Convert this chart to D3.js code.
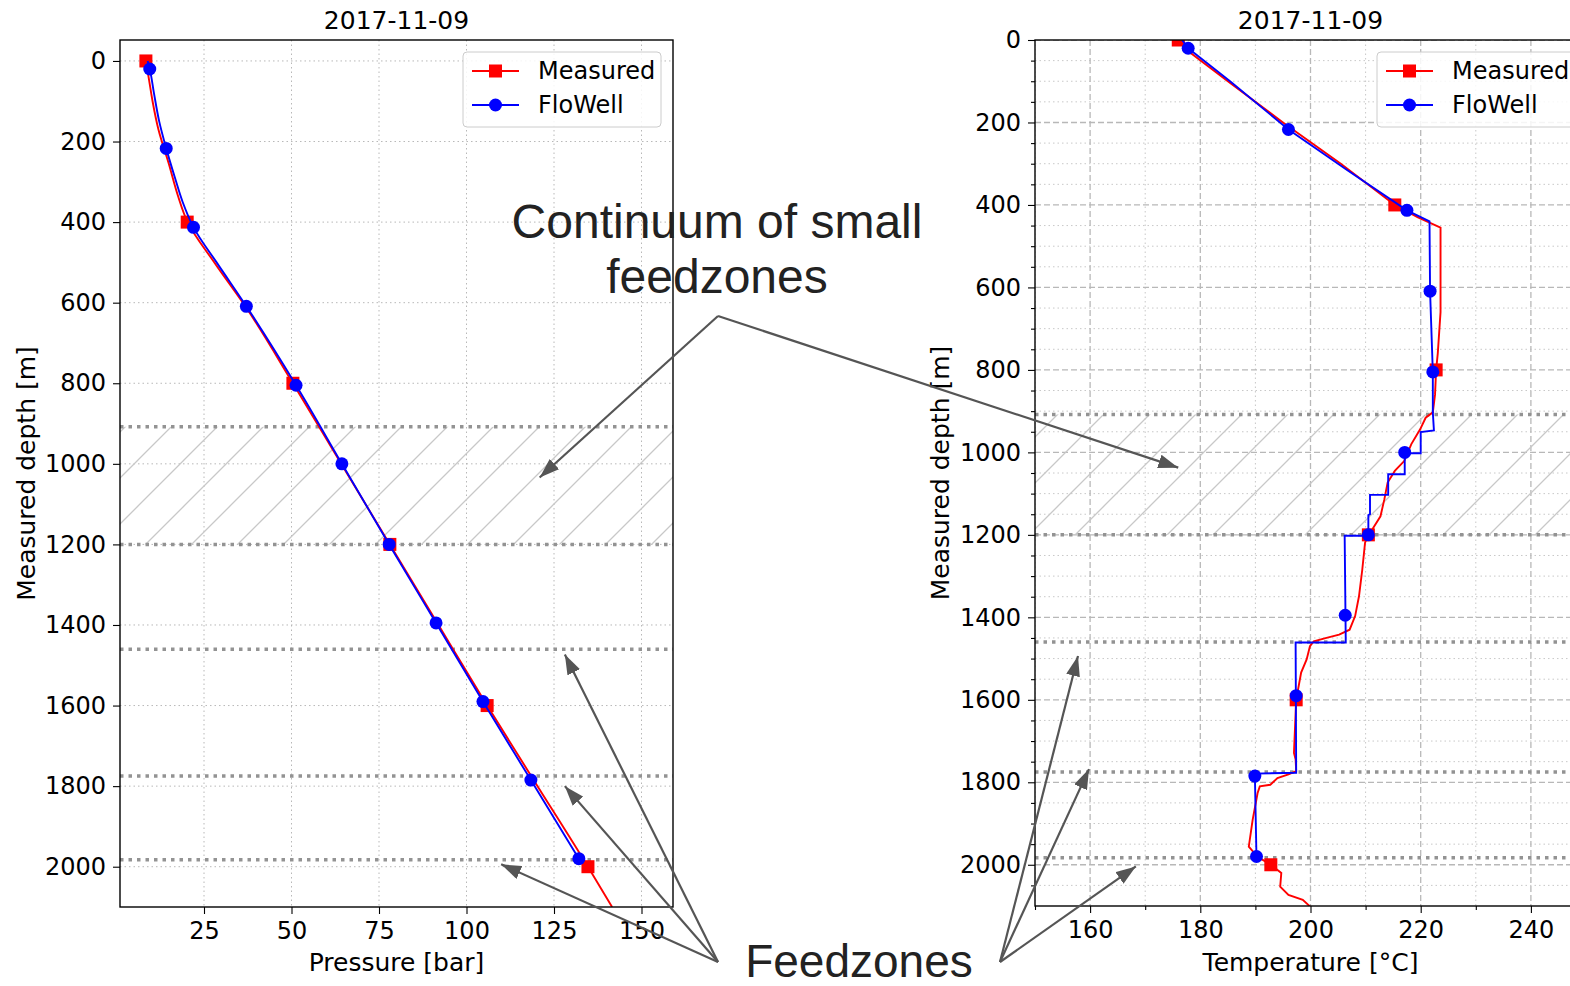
<!DOCTYPE html>
<html>
<head>
<meta charset="utf-8">
<script src="https://cdn.jsdelivr.net/npm/d3@7"></script>
<style>
    body { margin: 0; background: #fff; }
    svg { display: block; }
    text { font-family: "DejaVu Sans", sans-serif; fill: #000; }
    .note { font-family: "Liberation Sans", Arial, sans-serif; fill: #222; }
</style>
</head>
<body>
<div id="wrapper"></div>
<script>
const dateTitle = "2017-11-09";
const seriesNames = ["Measured", "FloWell"];

// feedzones (m), the first two bound the hatched "continuum" band
const feedzoneDepths = [908, 1200, 1460, 1775, 1983];
const continuumBand = [908, 1200];

// pressure, measured log
const presMeasDepth = [0, 47, 100, 171, 254, 336, 398, 502, 609, 800, 1000, 1200, 1400, 1600, 1800, 2000, 2100];
const presMeas = [8.4, 9.3, 10.3, 12.0, 14.9, 17.6, 20.2, 28.1, 36.8, 50.4, 64.2, 78.1, 92.0, 105.9, 120.3, 134.7, 141.6];

// pressure, FloWell
const presSimDepth = [0, 20, 80, 150, 217, 290, 350, 413, 500, 609, 805, 1000, 1200, 1395, 1590, 1785, 1980];
const presSim = [8.9, 9.5, 10.7, 12.2, 14.2, 16.7, 18.9, 22.0, 28.6, 37.1, 51.3, 64.4, 77.9, 91.3, 104.7, 118.4, 132.1];

// temperature, measured log
const tempMeasDepth = [0, 25, 100, 200, 300, 400, 430, 455, 660, 760, 800, 860, 903, 916, 944, 980, 1021, 1045, 1073, 1114, 1155, 1187, 1200, 1219, 1284, 1349, 1397, 1430, 1442, 1450, 1458, 1470, 1502, 1534, 1600, 1664, 1729, 1745, 1773, 1781, 1790, 1806, 1810, 1826, 1891, 1956, 1967, 1984, 2000, 2020, 2053, 2073, 2085, 2101];
const tempMeas = [176.0, 177.6, 185.0, 195.0, 205.5, 215.3, 219.5, 223.6, 223.6, 223.1, 222.8, 222.6, 222.2, 220.9, 219.9, 218.3, 217.0, 215.3, 214.0, 213.4, 212.7, 211.2, 210.5, 209.9, 209.4, 208.8, 208.1, 207.1, 205.2, 202.9, 200.6, 199.9, 199.3, 198.3, 197.4, 197.2, 197.0, 197.3, 197.4, 196.0, 194.0, 192.7, 190.8, 190.4, 189.5, 188.8, 189.5, 190.8, 192.8, 194.7, 194.5, 196.0, 198.6, 199.9];

// temperature, FloWell (stepped)
const tempSimDepth = [0, 20, 100, 217, 316, 413, 440, 609, 805, 903, 947, 951, 1002, 1002, 1053, 1053, 1103, 1103, 1150, 1152, 1202, 1202, 1461, 1461, 1777, 1779, 1985];
const tempSim = [176.7, 177.8, 185.4, 196.0, 206.7, 217.5, 221.6, 221.7, 222.2, 222.2, 222.4, 220.0, 220.0, 217.1, 217.1, 214.1, 214.1, 210.8, 210.8, 210.5, 210.5, 206.2, 206.4, 197.3, 197.4, 189.9, 190.2];

// markers
const measMarkDepth = [0, 400, 800, 1200, 1600, 2000];
const presMeasMark = [8.4, 20.2, 50.4, 78.1, 105.9, 134.7];
const tempMeasMark = [176.0, 215.3, 222.8, 210.5, 197.4, 192.8];
const simMarkDepth = [20, 217, 413, 609, 805, 1000, 1200, 1395, 1590, 1785, 1980];
const presSimMark = [9.5, 14.2, 22.0, 37.1, 51.3, 64.4, 77.9, 91.3, 104.7, 118.4, 132.1];
const tempSimMark = [177.8, 196.0, 217.5, 221.7, 222.2, 217.1, 210.5, 206.3, 197.4, 189.9, 190.2];

// ticks
const presTicks = [25, 50, 75, 100, 125, 150];
const tempTicks = [160, 180, 200, 220, 240];
const tempMinorTicks = [150, 170, 190, 210, 230, 250];
const depthTicks = [0, 200, 400, 600, 800, 1000, 1200, 1400, 1600, 1800, 2000];
const depthMinorTicks = d3.range(50, 2100, 50).filter(d => d % 200 !== 0);

// annotation targets, in data units of each panel: [value, depth]
const continuumTargets = { left: [120.9, 1034], right: [176.0, 1037] };
const feedzoneTargetsLeft = [[128.1, 1473], [128.1, 1800], [109.9, 1994]];
const feedzoneTargetsRight = [[157.8, 1494], [159.8, 1768], [168.3, 2004]];

const svg = d3.select("#wrapper")
    .append("svg")
    .attr("width", 1570)
    .attr("height", 986);

const defs = svg.append("defs");

let hatch = defs.append("pattern")
    .attr("id", "hatch")
    .attr("patternUnits", "userSpaceOnUse")
    .attr("width", 46)
    .attr("height", 46);
hatch.append("path")
    .attr("d", "M-6,6 L6,-6 M0,46 L46,0 M40,52 L52,40")
    .attr("stroke", "#c8c8c8")
    .attr("stroke-width", 1.3);

defs.append("marker")
    .attr("id", "head")
    .attr("viewBox", "0 0 10 10")
    .attr("refX", 10)
    .attr("refY", 5)
    .attr("markerUnits", "userSpaceOnUse")
    .attr("markerWidth", 20)
    .attr("markerHeight", 14)
    .attr("preserveAspectRatio", "none")
    .attr("orient", "auto")
    .append("path")
    .attr("d", "M0,0 L10,5 L0,10 z")
    .attr("fill", "#555");

function drawPanel(p) {
    const x = d3.scaleLinear().domain(p.xDomain).range([p.left, p.right]);
    const y = d3.scaleLinear().domain(p.yDomain).range([p.top, p.bottom]);
    const w = p.right - p.left;

    defs.append("clipPath").attr("id", p.id + "-clip")
        .append("rect")
        .attr("x", p.left).attr("y", p.top)
        .attr("width", w).attr("height", p.bottom - p.top);

    const g = svg.append("g");
    const plot = g.append("g").attr("clip-path", `url(#${p.id}-clip)`);

    // grid
    if (p.minor) {
        plot.append("g").selectAll("line")
            .data(p.xMinor)
            .join("line")
            .attr("x1", d => x(d)).attr("x2", d => x(d))
            .attr("y1", p.top).attr("y2", p.bottom)
            .attr("stroke", "#c8c8c8").attr("stroke-dasharray", "1.5,3");
        plot.append("g").selectAll("line")
            .data(depthMinorTicks)
            .join("line")
            .attr("x1", p.left).attr("x2", p.right)
            .attr("y1", d => y(d)).attr("y2", d => y(d))
            .attr("stroke", "#c8c8c8").attr("stroke-dasharray", "1.5,3");
    }
    const gridDash = p.minor ? "6,3" : "1.5,3";
    const gridWidth = p.minor ? 1.3 : 1;
    plot.append("g").selectAll("line")
        .data(p.xTicks)
        .join("line")
        .attr("x1", d => x(d)).attr("x2", d => x(d))
        .attr("y1", p.top).attr("y2", p.bottom)
        .attr("stroke", "#b8b8b8").attr("stroke-width", gridWidth)
        .attr("stroke-dasharray", gridDash);
    plot.append("g").selectAll("line")
        .data(depthTicks)
        .join("line")
        .attr("x1", p.left).attr("x2", p.right)
        .attr("y1", d => y(d)).attr("y2", d => y(d))
        .attr("stroke", "#b8b8b8").attr("stroke-width", gridWidth)
        .attr("stroke-dasharray", gridDash);

    // continuum band and feedzones
    plot.append("rect")
        .attr("x", p.left).attr("width", w)
        .attr("y", y(continuumBand[0]))
        .attr("height", y(continuumBand[1]) - y(continuumBand[0]))
        .attr("fill", "url(#hatch)");
    plot.append("g").selectAll("line")
        .data(feedzoneDepths)
        .join("line")
        .attr("x1", p.left).attr("x2", p.right)
        .attr("y1", d => y(d)).attr("y2", d => y(d))
        .attr("stroke", "#939393").attr("stroke-width", 3.5)
        .attr("stroke-dasharray", "3.5,5");

    // data
    const line = d3.line()
        .x(d => x(d[1]))
        .y(d => y(d[0]));

    plot.append("path")
        .datum(d3.zip(p.measDepth, p.meas))
        .attr("d", line.curve(p.measCurve))
        .attr("fill", "none").attr("stroke", "#ff0000").attr("stroke-width", 1.9);
    plot.append("g").selectAll("rect")
        .data(d3.zip(measMarkDepth, p.measMark))
        .join("rect")
        .attr("x", d => x(d[1]) - 6.5).attr("y", d => y(d[0]) - 6.5)
        .attr("width", 13).attr("height", 13)
        .attr("fill", "#ff0000");

    plot.append("path")
        .datum(d3.zip(p.simDepth, p.sim))
        .attr("d", line.curve(p.simCurve))
        .attr("fill", "none").attr("stroke", "#0000ff").attr("stroke-width", 1.9);
    plot.append("g").selectAll("circle")
        .data(d3.zip(simMarkDepth, p.simMark))
        .join("circle")
        .attr("cx", d => x(d[1])).attr("cy", d => y(d[0]))
        .attr("r", 6.5)
        .attr("fill", "#0000ff");

    // axes
    g.append("g")
        .attr("transform", `translate(${p.left},0)`)
        .call(d3.axisLeft(y).tickValues(depthTicks).tickFormat(d3.format("d")).tickSize(7).tickPadding(7));
    g.append("g")
        .attr("transform", `translate(0,${p.bottom})`)
        .call(d3.axisBottom(x).tickValues(p.xTicks).tickFormat(d3.format("d")).tickSize(7).tickPadding(8));
    if (p.minor) {
        g.append("g")
            .attr("transform", `translate(${p.left},0)`)
            .call(d3.axisLeft(y).tickValues(depthMinorTicks).tickFormat("").tickSize(4));
        g.append("g")
            .attr("transform", `translate(0,${p.bottom})`)
            .call(d3.axisBottom(x).tickValues(p.xMinor).tickFormat("").tickSize(4));
    }
    g.selectAll(".domain").remove();
    g.selectAll(".tick line").attr("stroke", "#000").attr("stroke-width", 1.1);
    g.selectAll(".tick text").style("font-size", "24px").style("font-family", "DejaVu Sans");

    g.append("rect")
        .attr("x", p.left).attr("y", p.top)
        .attr("width", w).attr("height", p.bottom - p.top)
        .attr("fill", "none").attr("stroke", "#000").attr("stroke-width", 1.4);

    const cx = p.left + w / 2;
    g.append("text")
        .attr("x", cx).attr("y", 29)
        .attr("text-anchor", "middle")
        .style("font-size", "25px")
        .text(dateTitle);
    g.append("text")
        .attr("x", cx).attr("y", 971)
        .attr("text-anchor", "middle")
        .style("font-size", "25px")
        .text(p.xLabel);
    g.append("text")
        .attr("transform", `translate(${p.yLabelX},${(p.top + p.bottom) / 2}) rotate(-90)`)
        .attr("text-anchor", "middle")
        .attr("dy", "0.35em")
        .style("font-size", "25px")
        .text("Measured depth [m]");

    // legend
    const lg = g.append("g").attr("transform", `translate(${p.legendX},52)`);
    lg.append("rect")
        .attr("width", 198).attr("height", 75).attr("rx", 4)
        .attr("fill", "#fff").attr("fill-opacity", 0.85)
        .attr("stroke", "#cccccc");
    seriesNames.forEach((name, i) => {
        const row = lg.append("g").attr("transform", `translate(0,${19 + i * 34})`);
        const col = i === 0 ? "#ff0000" : "#0000ff";
        row.append("line")
            .attr("x1", 9).attr("x2", 56)
            .attr("stroke", col).attr("stroke-width", 1.9);
        if (i === 0) {
            row.append("rect").attr("x", 26).attr("y", -6.5).attr("width", 13).attr("height", 13).attr("fill", col);
        } else {
            row.append("circle").attr("cx", 32.5).attr("r", 6.5).attr("fill", col);
        }
        row.append("text")
            .attr("x", 75).attr("dy", "0.35em")
            .style("font-size", "24px")
            .text(name);
    });

    return { x, y };
}

const left = drawPanel({
    id: "pres",
    left: 120, right: 673, top: 40, bottom: 907,
    xDomain: [1, 159], yDomain: [-52, 2100],
    xTicks: presTicks, minor: false,
    measDepth: presMeasDepth, meas: presMeas, measMark: presMeasMark,
    simDepth: presSimDepth, sim: presSim, simMark: presSimMark,
    measCurve: d3.curveMonotoneY, simCurve: d3.curveMonotoneY,
    xLabel: "Pressure [bar]", yLabelX: 26, legendX: 463
});

const right = drawPanel({
    id: "temp",
    left: 1035, right: 1586, top: 40, bottom: 906,
    xDomain: [150, 250], yDomain: [0, 2100],
    xTicks: tempTicks, xMinor: tempMinorTicks, minor: true,
    measDepth: tempMeasDepth, meas: tempMeas, measMark: tempMeasMark,
    simDepth: tempSimDepth, sim: tempSim, simMark: tempSimMark,
    measCurve: d3.curveLinear, simCurve: d3.curveLinear,
    xLabel: "Temperature [°C]", yLabelX: 940, legendX: 1377
});

// annotations
const notes = svg.append("g");

function arrow(from, to) {
    notes.append("line")
        .attr("x1", from[0]).attr("y1", from[1])
        .attr("x2", to[0]).attr("y2", to[1])
        .attr("stroke", "#555").attr("stroke-width", 2.2)
        .attr("marker-end", "url(#head)");
}

const contTail = [718, 316];
arrow(contTail, [left.x(continuumTargets.left[0]), left.y(continuumTargets.left[1])]);
arrow(contTail, [right.x(continuumTargets.right[0]), right.y(continuumTargets.right[1])]);

feedzoneTargetsLeft.forEach(d => arrow([718, 962], [left.x(d[0]), left.y(d[1])]));
feedzoneTargetsRight.forEach(d => arrow([1000, 962], [right.x(d[0]), right.y(d[1])]));

notes.append("text").attr("class", "note")
    .attr("x", 717).attr("y", 238)
    .attr("text-anchor", "middle")
    .style("font-size", "48px")
    .text("Continuum of small");
notes.append("text").attr("class", "note")
    .attr("x", 717).attr("y", 293)
    .attr("text-anchor", "middle")
    .style("font-size", "48px")
    .text("feedzones");
notes.append("text").attr("class", "note")
    .attr("x", 859).attr("y", 977)
    .attr("text-anchor", "middle")
    .style("font-size", "46px")
    .text("Feedzones");
</script>
</body>
</html>
